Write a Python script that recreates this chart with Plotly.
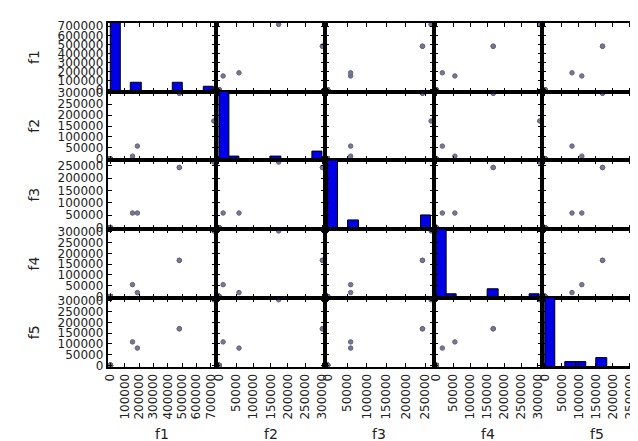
import numpy as np
import plotly.graph_objects as go

names = ["f1", "f2", "f3", "f4", "f5"]
f1 = [0, 0, 0, 0, 0, 0, 0, 0, 0, 0, 0, 0, 0, 0, 0, 154000, 188000, 480000, 480000, 720000]
f2 = [0, 0, 0, 0, 0, 0, 0, 0, 0, 0, 0, 0, 0, 0, 0, 12000, 58000, 300000, 300000, 173000]
f3 = [0, 0, 0, 0, 0, 0, 0, 0, 0, 0, 0, 0, 0, 0, 0, 59000, 59000, 243000, 243000, 265000]
f4 = [0, 0, 0, 0, 0, 0, 0, 0, 0, 0, 0, 0, 0, 0, 0, 55000, 18000, 168000, 168000, 305000]
f5 = [0, 0, 0, 0, 0, 0, 0, 0, 0, 0, 0, 0, 0, 0, 0, 109000, 80000, 170000, 170000, 305000]
tick_step = [100000, 50000, 50000, 50000, 50000]

data = [f1, f2, f3, f4, f5]

W, H = 638, 441
LEFT, CW = 97, 110
TOP, RH = 10, 70.6
PAD = 0.025

FONT = dict(family="DejaVu Sans", size=12, color="#222222")


def data_range(v):
    lo, hi = min(v), max(v)
    d = (hi - lo) * PAD
    return [lo - d, hi + d]


def tick_list(lo, hi, step):
    vals = []
    t = 0
    while t <= hi:
        vals.append(t)
        t += step
    return vals


ranges = [data_range(v) for v in data]

fig = go.Figure()
layout = dict(
    width=W, height=H, autosize=False,
    margin=dict(l=0, r=0, t=0, b=0),
    paper_bgcolor="white", plot_bgcolor="white",
    showlegend=False, bargap=0,
)

for i in range(5):
    for j in range(5):
        k = i * 5 + j + 1
        xn = "x" if k == 1 else f"x{k}"
        yn = "y" if k == 1 else f"y{k}"
        xkey = "xaxis" if k == 1 else f"xaxis{k}"
        ykey = "yaxis" if k == 1 else f"yaxis{k}"
        x0 = LEFT + CW * j
        x1 = min(x0 + CW, W)
        yt = TOP + RH * i
        yb = yt + RH
        xr = list(ranges[j])
        if x1 - x0 < CW:
            xr[1] = xr[0] + (x1 - x0) / CW * (xr[1] - xr[0])
        common = dict(showline=True, linecolor="black", linewidth=2,
                      ticks="inside", ticklen=4, tickwidth=1, tickcolor="black",
                      showgrid=False, zeroline=False, tickfont=FONT)
        xt = tick_list(*ranges[j], tick_step[j])
        layout[xkey] = dict(common, domain=[x0 / W, x1 / W], range=xr, anchor=yn,
                            mirror="ticks", tickmode="array", tickvals=xt,
                            ticktext=[str(v) for v in xt],
                            showticklabels=(i == 4), tickangle=-90)
        ymirror = "ticks" if j < 4 else False
        yt_vals = tick_list(*ranges[i], tick_step[i])
        if i == j:
            counts, edges = np.histogram(data[j], bins=10)
            cmax = counts.max()
            fig.add_trace(go.Bar(
                x=(edges[:-1] + edges[1:]) / 2, y=counts, width=edges[1] - edges[0],
                marker=dict(color="#0000e6", line=dict(color="black", width=1)),
                xaxis=xn, yaxis=yn, hoverinfo="skip"))
            lo, hi = ranges[i]
            tv = [(t - lo) / (hi - lo) * cmax for t in yt_vals]
            layout[ykey] = dict(common, domain=[1 - yb / H, 1 - yt / H], range=[0, cmax],
                                anchor=xn, mirror=ymirror, tickmode="array",
                                tickvals=tv, ticktext=[str(v) for v in yt_vals],
                                showticklabels=(j == 0))
        else:
            fig.add_trace(go.Scatter(
                x=data[j], y=data[i], mode="markers",
                marker=dict(size=4.5, color="#1a1a70", line=dict(color="black", width=1)),
                opacity=0.6, xaxis=xn, yaxis=yn, hoverinfo="skip"))
            layout[ykey] = dict(common, domain=[1 - yb / H, 1 - yt / H], range=ranges[i],
                                anchor=xn, mirror=ymirror, tickmode="array",
                                tickvals=yt_vals, ticktext=[str(v) for v in yt_vals],
                                showticklabels=(j == 0))

ann = []
for j, n in enumerate(names):
    cx = LEFT + CW * j + CW / 2
    ann.append(dict(text=n, x=cx / W, y=1 - 432 / H, xref="paper", yref="paper",
                    showarrow=False, font=dict(family="DejaVu Sans", size=14, color="#222222"),
                    xanchor="center", yanchor="middle"))
for i, n in enumerate(names):
    cy = TOP + RH * i + RH / 2
    ann.append(dict(text=n, x=22 / W, y=1 - cy / H, xref="paper", yref="paper",
                    showarrow=False, textangle=-90,
                    font=dict(family="DejaVu Sans", size=14, color="#222222"),
                    xanchor="center", yanchor="middle"))
layout["annotations"] = ann

fig.update_layout(layout)
fig.write_html("out.html")
